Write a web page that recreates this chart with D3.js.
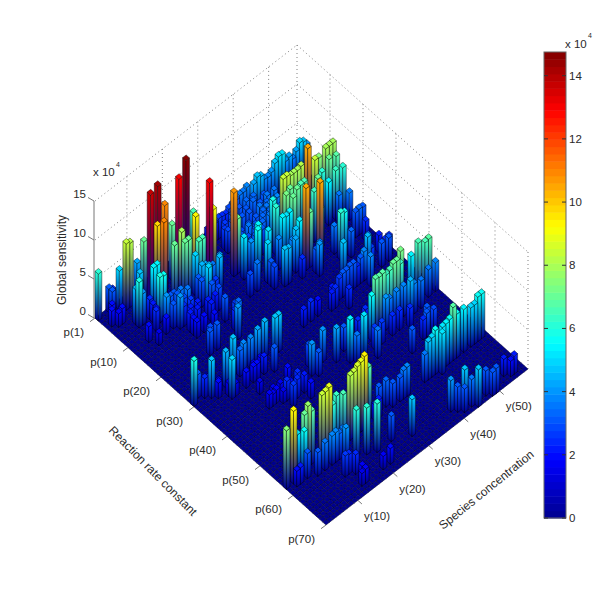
<!DOCTYPE html>
<html><head><meta charset="utf-8">
<script src="https://cdn.jsdelivr.net/npm/d3@7"></script>
<style>html,body{margin:0;padding:0;background:#fff}svg{display:block}text{font-family:"Liberation Sans",Arial,sans-serif;fill:#2a2a2a}</style>
</head><body><svg id="c" width="600" height="590"></svg>
<script>
// [reaction index p, species index y, sensitivity in units of 1e4]; all other cells read as ~0
const leftCluster=[[1,1,6],[1,4,3],[1,5,2.5],[2,4,3],[2,6,5],[3,3,2],[3,7,8.5],[3,8,8.2],[2,11,4.2],[3,12,7],[5,4,2],[5,9,4.7],[5,12,13.8],[5,14,14.2],[5,16,11],[6,13,9.8],[8,13,11],[5,20,13],[5,22,14.7],[10,24,13],[12,29,10.7],[9,21,9.3],[10,25,9.2],[8,18,8],[8,16,7],[9,18,7],[4,19,7],[9,19,7],[4,25,6.5],[10,20,5],[10,21,6.5],[10,22,6.5],[12,20,4.5],[7,11,5.5],[7,12,5.5],[7,13,5],[10,10,5.8],[10,11,5.6],[7,6,4.5],[7,7,5],[8,6,5.8],[8,7,4],[6,7,3.6],[12,22,3.5],[12,23,3.5],[12,25,4],[14,30,5.3],[12,30,7],[14,34,5.5],[15,33,5.6],[16,35,5.2],[12,40,5.8],[14,39,6],[16,39,5.5],[16,40,5.3],[16,41,5.5],[19,41,5.5],[19,40,4.7],[13,24,4.5],[14,20,5],[14,32,4],[18,33,5],[20,39,4.2],[17,37,3.8],[11,40,3.5]];
const lowLeft=[[4,2,2],[5,3,1.7],[8,9,2.5],[9,9,2.2],[9,11,2.2],[10,9,2],[11,8,2.5],[11,12,3],[11,13,3],[12,5,2],[12,10,4],[12,13,3.2],[12,14,3.5],[12,19,3.2],[12,21,4.2],[11,21,3.7],[13,9,2],[13,11,3],[13,14,2.8],[13,15,3.6],[13,19,3.2],[13,20,3],[13,21,4.5],[14,6,1.5],[14,12,4],[14,13,2.5],[14,15,2.6],[14,22,2.7],[15,14,2.3],[15,16,2.3],[15,20,3.2],[16,13,2.3],[16,15,2.2],[16,18,2.2],[16,20,2.2],[16,21,2.8],[17,13,2],[17,18,2.2],[18,13,2],[18,15,2],[19,17,2],[19,20,3],[21,21,2.7],[22,20,2.5],[22,21,3.3],[22,13,2.8],[18,30,3.5],[18,28,2.8],[19,33,3],[20,33,2.8],[21,35,4.7],[21,36,4.5],[22,39,2.5],[24,19,4],[23,12,3],[23,14,3.2]];
const backRidge=[[3,30,2.2],[3,31,2.5],[3,32,2.3],[3,33,2.6],[3,34,2.5],[3,35,2.4],[3,36,2.8],[3,37,3],[3,38,3.2],[3,39,3.5],[3,40,3.5],[3,41,3.8],[4,42,4.2],[4,43,4.8],[4,44,4.5],[4,45,3.8],[4,46,3.7],[4,47,4],[4,48,4.8],[4,49,5.3],[4,50,5.2],[4,51,4],[4,52,4.2],[4,53,3.6],[4,54,4.2],[4,55,5],[4,56,4.7],[4,57,4]];
const blueMass=[[5,33,2.6],[5,35,3],[5,37,3.2],[5,39,3.4],[5,41,3.3],[6,32,2.6],[6,34,2.8],[6,38,3.1],[6,40,3.4],[6,43,3.2],[7,32,2.8],[7,34,3],[7,36,3.2],[7,38,3],[7,41,3.2],[7,43,3.5],[7,45,3.5],[8,40,3.5],[8,42,3.3],[8,44,3],[9,32,2.4],[9,34,2.8],[9,36,3],[9,38,3.2],[9,40,3.3],[9,41,3.5],[9,42,3.5],[9,44,3.7],[10,33,3],[10,35,3.5],[10,37,3],[10,39,3.3],[10,41,3.3],[10,46,4],[11,31,2.5],[11,34,2.8],[11,36,3.1],[11,38,3.3],[11,43,3.6],[12,33,2.5],[12,35,3],[12,37,3.2]];
const backCluster=[[14,48,10.5],[13,54,8],[13,55,8],[13,56,8],[13,52,7.5],[14,54,7],[14,56,6.7],[14,50,8.3],[13,47,8.2],[13,46,8],[13,45,8],[13,44,8],[13,43,8.3],[13,42,8.3],[14,52,6],[16,49,7],[16,52,5.5],[16,54,6.3],[16,56,6],[21,41,10.5],[22,44,10.5],[14,46,6.5],[14,47,6.5],[14,43,7],[15,44,7],[15,41,7.3],[16,42,7],[21,42,7],[17,47,6.4],[19,47,5],[17,54,3.5],[18,56,3.5],[24,48,6],[24,49,5.7],[22,48,3.5],[22,49,3],[23,43,3.5],[23,42,3],[24,42,4],[19,39,3.7],[20,37,3.5],[20,36,3.5],[28,45,4.7],[22,54,3.2],[22,55,3.3],[22,56,3.2],[25,50,3.3],[24,55,2.5],[28,52,3.2],[28,55,2.2],[30,55,2.4],[30,56,2.5],[30,49,3],[30,50,4.5],[30,51,2.7]];
const rightRows=[[41,49,7.2],[41,52,5.5],[41,54,6.5],[42,55,6.6],[42,56,6.7],[43,55,3.5],[43,57,3.7],[43,39,5.7],[42,41,6.8],[42,42,6.7],[42,43,6.8],[42,44,6.3],[42,45,6.5],[42,46,7],[42,47,7],[42,48,6.3],[43,43,4],[43,44,3.6],[43,46,3.8],[43,48,3.8],[44,49,4.5],[44,50,3.8],[44,52,3.5],[45,38,2.7],[45,40,2.7],[45,43,2.5],[45,45,2.5],[46,47,2.5],[49,49,3],[58,48,6.8],[58,49,5.6],[58,51,5.5],[58,53,5],[58,54,5],[58,55,5.7],[58,56,5.7],[58,43,5.6],[58,41,4.8],[58,42,5],[59,44,5.2],[58,45,5.3],[58,46,5.4],[58,47,5.6],[58,40,3.5],[50,48,3],[50,50,2.8],[50,47,2.5],[51,43,3]];
const midRows=[[47,37,3.5],[40,28,4],[41,24,4],[42,25,3],[42,30,4.3],[44,32,5.5],[45,35,5.3],[39,25,2.8],[45,33,3.5],[30,1,5.8],[29,3,3],[30,4,2.5],[30,5,2.2],[31,5,4.8],[32,6,2],[31,7,1.5],[33,8,1.6],[34,9,1.6],[34,8,5],[31,9,4.5],[30,12,4.8],[31,13,3.3],[31,14,3.8],[31,16,3.8],[31,18,4.2],[31,20,4.5],[32,22,4.7],[32,23,4.7],[34,12,2],[33,17,1.7],[33,15,1.6],[34,14,2],[34,15,2],[34,17,2.2],[35,19,3],[37,13,1.5],[41,12,1.8],[41,14,1.7],[40,14,1.5],[40,16,1.4],[42,17,2],[42,19,2.5],[41,13,1.5],[39,19,2],[43,20,2.2],[43,18,2.4],[44,16,2.7],[42,16,2.5],[45,20,2],[42,15,1.5],[31,41,2.7],[31,39,2.2],[31,42,3],[31,43,3],[31,44,3.2],[31,45,3.2],[31,46,2.5],[31,47,3.2],[31,48,3.7],[33,48,3.8],[31,53,3],[31,55,3],[34,41,2.5],[32,39,2.5],[32,38,2.2],[40,40,2.5],[41,37,2.5],[41,33,3],[31,33,2.5],[31,31,2.2],[31,35,2]];
const frontRows=[[58,23,9.3],[58,22,8.9],[58,21,8.7],[58,20,8.3],[58,19,8.2],[57,25,6.8],[58,17,6.5],[57,16,6.3],[58,13,8.8],[58,11,8.5],[58,12,8.6],[58,14,6.2],[58,3,9.3],[58,1,7.5],[57,5,5.2],[58,6,5.6],[57,7,7],[57,8,7.8],[57,9,6.8],[59,6,3.2],[59,3,2],[59,4,2.1],[60,8,3],[60,10,3.5],[60,12,3.7],[60,13,3.8],[60,14,3.3],[60,15,3.5],[61,15,4],[62,17,6],[63,19,6],[64,21,6.2],[64,12,2.7],[64,13,2.5],[65,14,2.5],[67,14,1.8],[68,14,1.8],[68,13,1.6],[68,19,1.7],[68,21,2],[64,25,3.2],[66,29,4.7],[57,30,3.3],[57,28,3.2],[58,35,3.7],[58,34,3.6],[58,33,3],[58,31,3],[58,27,2.3],[58,26,2]];
const farCorner=[[67,39,4],[68,42,4.7],[70,44,4.8],[68,40,3.2],[69,41,3],[69,43,3.5],[69,47,3.2],[70,49,3.2],[70,48,3],[68,53,2.2],[69,54,2],[69,55,2.3]];
const pTicks=[0,10,20,30,40,50,60,70], pTickLabels=["p(1)","p(10)","p(20)","p(30)","p(40)","p(50)","p(60)","p(70)"];
const yTicks=[10,20,30,40,50], yTickLabels=["y(10)","y(20)","y(30)","y(40)","y(50)"];
const zTicks=[0,5,10,15], barTicks=[0,2,4,6,8,10,12,14];
const nP=70,nY=57,zMax=15,cMax=14.75;

const svg=d3.select("#c");const defs=svg.append("defs");
const L=[95,318],B=[326,525],R=[528,369];
const ps=d3.scaleLinear().domain([0,nP]).range([0,1]);
const ys=d3.scaleLinear().domain([1,nY+1]).range([0,1]);
const zs=d3.scaleLinear().domain([0,zMax]).range([0,117]);
const proj=(p,y,z=0)=>[L[0]+(B[0]-L[0])*ps(p)+(R[0]-B[0])*ys(y),L[1]+(B[1]-L[1])*ps(p)+(R[1]-B[1])*ys(y)-zs(z)];
const jetBase=d3.scaleLinear().domain([0,.125,.375,.625,.875,1]).range(["rgb(0,0,143)","rgb(0,0,255)","rgb(0,255,255)","rgb(255,255,0)","rgb(255,0,0)","rgb(128,0,0)"]);
const lvl=d3.scaleQuantize().domain([0,cMax]).range(d3.range(64).map(i=>jetBase((i+.5)/64)));
const navy=jetBase(0);

// walls
const grid=svg.append("g").attr("fill","none").attr("stroke","#808080").attr("stroke-width",1).attr("stroke-dasharray","1 3");
const seg=(a,b)=>grid.append("line").attr("x1",a[0]).attr("y1",a[1]).attr("x2",b[0]).attr("y2",b[1]);
zTicks.filter(z=>z>0).forEach(z=>{seg(proj(0,1,z),proj(0,nY+1,z));seg(proj(0,nY+1,z),proj(nP,nY+1,z));});
yTicks.concat([nY+1]).forEach(y=>seg(proj(0,y,0),proj(0,y,zMax)));
pTicks.filter(p=>p>0).forEach(p=>seg(proj(p,nY+1,0),proj(p,nY+1,zMax)));

// floor
const cells=[];for(let p=1;p<=nP;p++)for(let y=nY;y>=1;y--)cells.push({p,y});
const pts=a=>a.map(d=>d.map(v=>v.toFixed(2)).join(",")).join(" ");
svg.append("g").selectAll("polygon").data(cells).join("polygon")
 .attr("points",d=>pts([proj(d.p-1,d.y),proj(d.p,d.y),proj(d.p,d.y+1),proj(d.p-1,d.y+1)]))
 .attr("fill",navy).attr("stroke","#00002a").attr("stroke-width",.5);

// bars
const all=new Map();
[leftCluster,lowLeft,backRidge,blueMass,backCluster,rightRows,midRows,frontRows,farCorner].forEach(s=>s.forEach(([p,y,v])=>all.set(p+"_"+y,{p,y,v})));
const bars=[...all.values()].sort((a,b)=>d3.ascending(a.p,b.p)||d3.descending(a.y,b.y));
function grad(id,a,b,top,col){
 const ex=b[0]-a[0],ey=b[1]-a[1],l=Math.hypot(ex,ey),nx=-ey/l,ny=ex/l;
 const hx=top[0]-a[0],hy=top[1]-a[1],k=hx*nx+hy*ny;
 const g=defs.append("linearGradient").attr("id",id).attr("gradientUnits","userSpaceOnUse")
  .attr("x1",a[0]).attr("y1",a[1]).attr("x2",a[0]+nx*k).attr("y2",a[1]+ny*k);
 g.append("stop").attr("offset",0).attr("stop-color",navy);
 g.append("stop").attr("offset",1).attr("stop-color",col);
 return `url(#${id})`;
}
const bg=svg.append("g").attr("stroke","#000").attr("stroke-opacity",.7).attr("stroke-width",.6);
bars.forEach((d,i)=>{
 const c=lvl(d.v),g=bg.append("g");
 const a=proj(d.p-1,d.y),f=proj(d.p,d.y),r=proj(d.p,d.y+1),bk=proj(d.p-1,d.y+1);
 const up=q=>[q[0],q[1]-zs(d.v)];
 g.append("polygon").attr("points",pts([a,f,up(f),up(a)])).attr("fill",grad("l"+i,a,f,up(a),c));
 g.append("polygon").attr("points",pts([f,r,up(r),up(f)])).attr("fill",grad("r"+i,f,r,up(f),c));
 g.append("polygon").attr("points",pts([up(a),up(f),up(r),up(bk)])).attr("fill",c);
});

// z axis
const ax=svg.append("g").attr("stroke","#777").attr("fill","none");
ax.append("line").attr("x1",L[0]-1).attr("y1",L[1]).attr("x2",L[0]-1).attr("y2",L[1]-zs(zMax));
const T=(s,x,y,o={})=>{const t=svg.append("text").attr("x",x).attr("y",y).attr("font-size",o.fs||11.5).text(s);if(o.anchor)t.attr("text-anchor",o.anchor);if(o.rot!=null)t.attr("transform",`rotate(${o.rot} ${x} ${y})`);return t;};
zTicks.forEach(z=>{const q=proj(0,1,z);ax.append("line").attr("x1",q[0]-1).attr("y1",q[1]).attr("x2",q[0]-7).attr("y2",q[1]-3.5);T(z,q[0]-9,q[1]-3,{anchor:"end"});});
const tk=(x1,y1,x2,y2)=>ax.append("line").attr("x1",x1).attr("y1",y1).attr("x2",x2).attr("y2",y2);
pTicks.forEach((p,i)=>{const q=proj(p,1);tk(q[0],q[1],q[0]-5,q[1]+3.7);T(pTickLabels[i],q[0]-11,q[1]+18,{anchor:"end"});});
yTicks.forEach((y,i)=>{const q=proj(nP,y);tk(q[0],q[1],q[0]+4,q[1]+3.6);T(yTickLabels[i],q[0]+6,q[1]+19.5);});
T("x 10",93,176);T("4",116,167,{fs:7});
T("Global sensitivity",66,305,{rot:-90,fs:12});
T("Reaction rate constant",108,431,{rot:45.5,fs:12});
T("Species concentration",443,530,{rot:-39,fs:12});

// colorbar
const cy=d3.scaleLinear().domain([0,cMax]).range([518,52]);
const cb=svg.append("g");
cb.selectAll("rect").data(d3.range(64)).join("rect").attr("x",544).attr("width",22)
 .attr("y",i=>cy(cMax*(i+1)/64)).attr("height",(518-52)/64+.5).attr("fill",i=>jetBase((i+.5)/64));
cb.append("rect").attr("x",544).attr("y",52).attr("width",22).attr("height",466).attr("fill","none").attr("stroke","#666");
barTicks.forEach(v=>{const y=cy(v);cb.append("line").attr("x1",544).attr("x2",548).attr("y1",y).attr("y2",y).attr("stroke","#333");cb.append("line").attr("x1",562).attr("x2",566).attr("y1",y).attr("y2",y).attr("stroke","#333");T(v,569,y+4);});
T("x 10",565,48);T("4",588,38,{fs:7});
</script></body></html>
